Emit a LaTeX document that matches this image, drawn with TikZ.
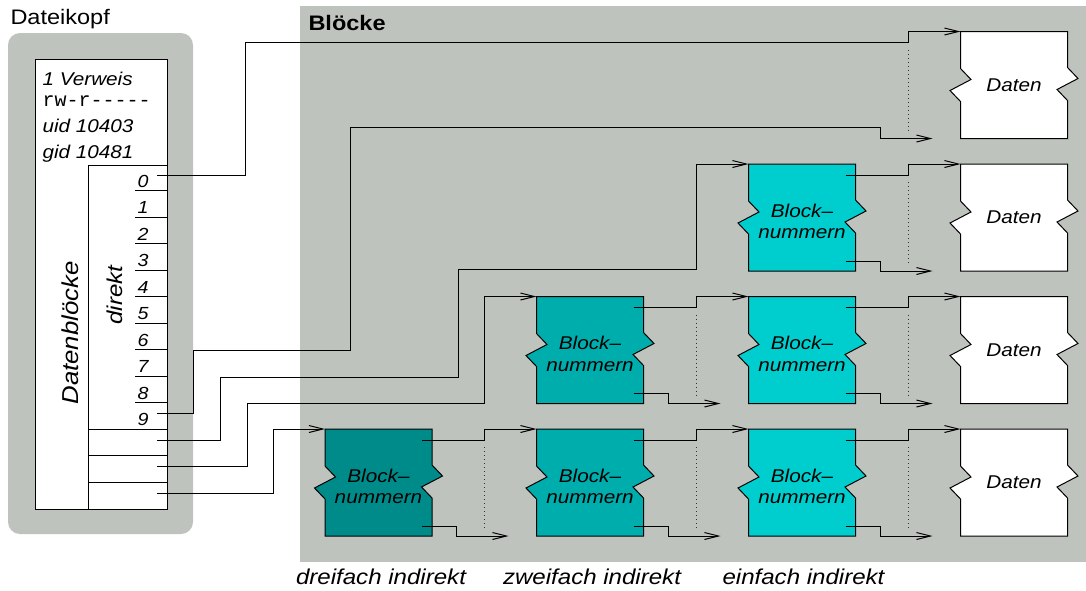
\documentclass[tikz,border=0pt]{standalone}
\usepackage{fontspec}
\setmainfont{Liberation Sans}[FakeStretch=1.12]
\setmonofont{Liberation Mono}
\usetikzlibrary{arrows.meta,calc}
\definecolor{bggray}{RGB}{191,195,189}
\definecolor{tealA}{RGB}{0,139,139}
\definecolor{tealB}{RGB}{0,173,173}
\definecolor{tealC}{RGB}{0,206,206}
\newcommand\fsz[1]{\fontsize{#1}{#1}\selectfont}
\newcommand\btfont{\fontsize{18.5}{21.5}\selectfont\itshape}
\newcommand\tornbox[5]{%
  \node[blk] (#1) at (#2) {};
  \filldraw[fill=#3] (#1.north west) -- (#1.north east) -- ++(0,36) -- ++(10.5,11) -- ++(-21,11) -- ++(10.5,11)
    -- (#1.south east) -- (#1.south west) -- ++(0,-37) -- ++(-10.5,-11) -- ++(21,-11) -- ++(-10.5,-11) -- cycle;
  \node[btxt] (#1t) at ($(#1.center)+(0,#5)$) {#4};}
\newcommand\blink[2]{%
  \draw[conn] ($(#1.north east)+(-10,11)$) -| ($(#2.north west)+(-52,0)$) -- (#2.north west);
  \draw[conn] ($(#1.south east)+(-10,-10)$) -| ($(#2.south west)+(-80,0)$) -- ($(#2.south west)+(-28,0)$);
  \draw[dots] ($(#2.north west)+(-52,18)$) -- ($(#2.south west)+(-52,-8)$);}
\begin{document}
\begin{tikzpicture}[x=1pt,y=-1pt,line width=1pt,
  blk/.style={rectangle,minimum width=106pt,minimum height=106pt,inner sep=0pt},
  btxt/.style={align=center,inner sep=0pt,font=\btfont},
  conn/.style={-{Straight Barb[length=14pt,width=7pt]}},
  dots/.style={black!80,dash pattern=on 1pt off 3pt},
  lbl/.style={inner sep=0pt,font=\fsz{21}},
  itx/.style={inner sep=0pt,font=\fsz{18.5}\itshape},
  num/.style={inner sep=0pt,font=\fsz{17.5}\itshape}]
\useasboundingbox (0,0) rectangle (1086,590);
% backgrounds
\fill[bggray,rounded corners=12pt] (8,33) rectangle (193,534);
\fill[bggray] (300,6) rectangle (1086,562);
% labels
\node[lbl,anchor=base west] (kopf) at (10,24) {Dateikopf};
\node[lbl,font=\fsz{21}\bfseries,anchor=base west] (bloecke) at (308,30.7) {Blöcke};
% inode
\node[draw,fill=white,minimum width=132pt,minimum height=450pt,inner sep=0pt,anchor=north west] (inode) at (35,59) {};
\node[draw,minimum width=79pt,minimum height=344.5pt,inner sep=0pt,anchor=south east] (blks) at (inode.south east) {};
\node[itx,anchor=base west] (t1) at (42,85) {1 Verweis};
\node[inner sep=0pt,font=\fsz{20}\ttfamily,anchor=base west] (t2) at (42,106.5) {rw-r-----};
\node[itx,anchor=base west] (t3) at (42,132.5) {uid 10403};
\node[itx,anchor=base west] (t4) at (42,158.5) {gid 10481};
\node[lbl,font=\fsz{23}\itshape,rotate=90,anchor=base west] (dbl) at (78,405) {Datenblöcke};
\node[lbl,font=\fsz{21.5}\itshape,rotate=90,anchor=base west] (dir) at (122,325) {direkt};
\foreach \i in {0,...,9}{
  \node[num,anchor=base east] (n\i) at (149,187+26.5*\i) {\i};
}
\foreach \i in {0,...,8}{
  \draw (135,190.5+26.5*\i) -- (167,190.5+26.5*\i);
}
\foreach \i in {9,10,11}{
  \draw (88,190.5+26.5*\i) -- (167,190.5+26.5*\i);
}
\foreach \i in {0,...,12}{
  \coordinate (r\i) at (157,175+26.5*\i);
}
% blocks
\tornbox{D1}{1014,85}{white}{Daten}{0}
\tornbox{C2}{802,217.5}{tealC}{Block–\\nummern}{4}
\tornbox{D2}{1014,217.5}{white}{Daten}{0}
\tornbox{B3}{590,350}{tealB}{Block–\\nummern}{4}
\tornbox{C3}{802,350}{tealC}{Block–\\nummern}{4}
\tornbox{D3}{1014,350}{white}{Daten}{0}
\tornbox{A4}{378.5,482.5}{tealA}{Block–\\nummern}{4}
\tornbox{B4}{590,482.5}{tealB}{Block–\\nummern}{4}
\tornbox{C4}{802,482.5}{tealC}{Block–\\nummern}{4}
\tornbox{D4}{1014,482.5}{white}{Daten}{0}
% links between blocks
\blink{C2}{D2}
\blink{B3}{C3}
\blink{C3}{D3}
\blink{A4}{B4}
\blink{B4}{C4}
\blink{C4}{D4}
\draw[dots] ($(D1.north west)+(-52,18)$) -- ($(D1.south west)+(-52,-8)$);
% links from inode
\draw[conn] (r0) -- ++(88,0) |- ($(D1.north west)+(-52,11)$) |- (D1.north west);
\draw[conn] (r9) -| (193,350) -| (350,127) -| ($(D1.south west)+(-80,0)$) -- ($(D1.south west)+(-28,0)$);
\draw[conn] (r10) -| (220,377) -| (458,269) -| ($(C2.north west)+(-52,0)$) -- (C2.north west);
\draw[conn] (r11) -| (247,403) -| ($(B3.north west)+(-52,0)$) -- (B3.north west);
\draw[conn] (r12) -| ($(A4.north west)+(-52,0)$) -- (A4.north west);
% bottom labels
\node[lbl,font=\fsz{21.5}\itshape,anchor=base] (l3) at (381,584) {dreifach indirekt};
\node[lbl,font=\fsz{21.5}\itshape,anchor=base] (l2) at (592,584) {zweifach indirekt};
\node[lbl,font=\fsz{21.5}\itshape,anchor=base] (l1) at (803.5,584) {einfach indirekt};
\end{tikzpicture}
\end{document}
